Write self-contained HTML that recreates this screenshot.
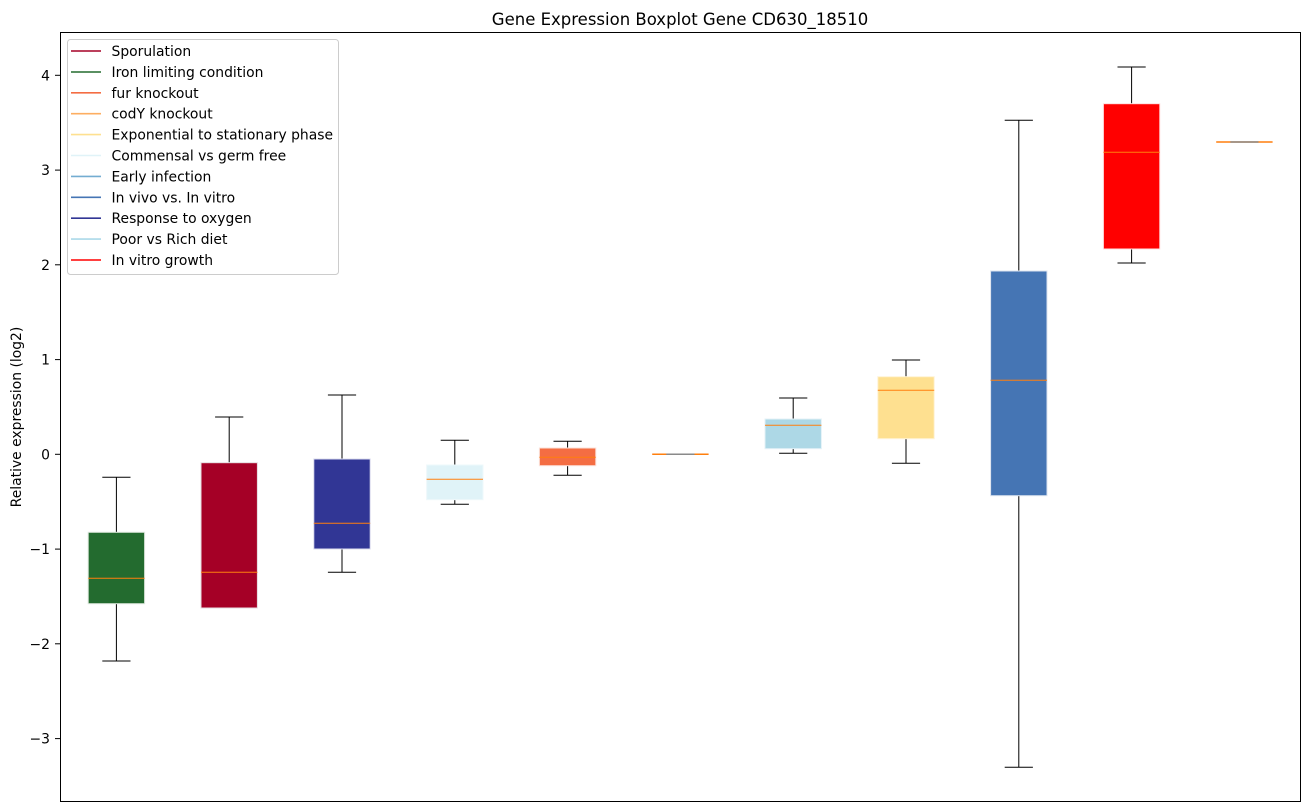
<!DOCTYPE html>
<html>
<head>
<meta charset="utf-8">
<style>
  html, body { margin: 0; padding: 0; background: #ffffff; }
  svg { display: block; }
  text { font-family: "DejaVu Sans", "Liberation Sans", sans-serif; fill: #000; }
</style>
</head>
<body>
<svg width="1309" height="812" viewBox="0 0 1309 812" xmlns="http://www.w3.org/2000/svg">
  <rect x="0" y="0" width="1309" height="812" fill="#ffffff"/>

  <!-- Title -->
  <text x="680" y="25" font-size="16.5" text-anchor="middle">Gene Expression Boxplot Gene CD630_18510</text>

  <!-- Y label -->
  <text transform="translate(21,417) rotate(-90)" font-size="13.9" text-anchor="middle">Relative expression (log2)</text>

  <!-- Y ticks -->
  <g stroke="#000" stroke-width="1">
    <line x1="55" y1="75.3" x2="60" y2="75.3"/>
    <line x1="55" y1="170.1" x2="60" y2="170.1"/>
    <line x1="55" y1="264.8" x2="60" y2="264.8"/>
    <line x1="55" y1="359.6" x2="60" y2="359.6"/>
    <line x1="55" y1="454.3" x2="60" y2="454.3"/>
    <line x1="55" y1="549.1" x2="60" y2="549.1"/>
    <line x1="55" y1="643.8" x2="60" y2="643.8"/>
    <line x1="55" y1="738.6" x2="60" y2="738.6"/>
  </g>
  <g font-size="13.9" text-anchor="end">
    <text x="50" y="80.3">4</text>
    <text x="50" y="175.1">3</text>
    <text x="50" y="269.8">2</text>
    <text x="50" y="364.6">1</text>
    <text x="50" y="459.3">0</text>
    <text x="50" y="554.1">−1</text>
    <text x="50" y="648.8">−2</text>
    <text x="50" y="743.6">−3</text>
  </g>

  <!-- Boxes -->
  <g stroke-width="1">
    <!-- Box 1 -->
    <line x1="116.4" y1="477.3" x2="116.4" y2="532.3" stroke="#000"/>
    <line x1="116.4" y1="603.7" x2="116.4" y2="661" stroke="#000"/>
    <line x1="102.3" y1="477.3" x2="130.5" y2="477.3" stroke="#000"/>
    <line x1="102.3" y1="661" x2="130.5" y2="661" stroke="#000"/>
    <rect x="88.2" y="532.3" width="56.4" height="71.4" fill="#236b2f" stroke="#dde6dd"/>
    <line x1="88.2" y1="578.3" x2="144.6" y2="578.3" stroke="#ff7f0e"/>

    <!-- Box 2 -->
    <line x1="229.2" y1="417" x2="229.2" y2="462.7" stroke="#000"/>
    <line x1="215.1" y1="417" x2="243.3" y2="417" stroke="#000"/>
    <line x1="215.1" y1="608" x2="243.3" y2="608" stroke="#000"/>
    <rect x="201" y="462.7" width="56.4" height="145.3" fill="#a50026" stroke="#e6dde0"/>
    <line x1="201" y1="572.3" x2="257.4" y2="572.3" stroke="#ff7f0e"/>

    <!-- Box 3 -->
    <line x1="342" y1="395" x2="342" y2="459" stroke="#000"/>
    <line x1="342" y1="549" x2="342" y2="572.3" stroke="#000"/>
    <line x1="327.9" y1="395" x2="356.1" y2="395" stroke="#000"/>
    <line x1="327.9" y1="572.3" x2="356.1" y2="572.3" stroke="#000"/>
    <rect x="313.8" y="459" width="56.4" height="90" fill="#313695" stroke="#dcdcee"/>
    <line x1="313.8" y1="523.3" x2="370.2" y2="523.3" stroke="#ff7f0e"/>

    <!-- Box 4 -->
    <line x1="454.8" y1="440.3" x2="454.8" y2="465" stroke="#000"/>
    <line x1="454.8" y1="499.7" x2="454.8" y2="504.3" stroke="#000"/>
    <line x1="440.7" y1="440.3" x2="468.9" y2="440.3" stroke="#000"/>
    <line x1="440.7" y1="504.3" x2="468.9" y2="504.3" stroke="#000"/>
    <rect x="426.6" y="465" width="56.4" height="34.7" fill="#e0f3f8" stroke="#eef8fb"/>
    <line x1="426.6" y1="479.3" x2="483" y2="479.3" stroke="#ff7f0e"/>

    <!-- Box 5 -->
    <line x1="567.6" y1="441.3" x2="567.6" y2="448" stroke="#000"/>
    <line x1="567.6" y1="465.7" x2="567.6" y2="475.3" stroke="#000"/>
    <line x1="553.5" y1="441.3" x2="581.7" y2="441.3" stroke="#000"/>
    <line x1="553.5" y1="475.3" x2="581.7" y2="475.3" stroke="#000"/>
    <rect x="539.4" y="448" width="56.4" height="17.7" fill="#f46d43" stroke="#fbe2da"/>
    <line x1="539.4" y1="457.3" x2="595.8" y2="457.3" stroke="#ff7f0e"/>

    <!-- Box 6 (flat at 0) -->
    <line x1="652.2" y1="454.3" x2="708.6" y2="454.3" stroke="#ff7f0e" stroke-width="1.5"/>
    <line x1="666.3" y1="454.3" x2="694.5" y2="454.3" stroke="#8a8a8a" stroke-width="1.5"/>

    <!-- Box 7 -->
    <line x1="793.2" y1="398" x2="793.2" y2="419" stroke="#000"/>
    <line x1="793.2" y1="448.7" x2="793.2" y2="453.3" stroke="#000"/>
    <line x1="779.1" y1="398" x2="807.3" y2="398" stroke="#000"/>
    <line x1="779.1" y1="453.3" x2="807.3" y2="453.3" stroke="#000"/>
    <rect x="765" y="419" width="56.4" height="29.7" fill="#add8e6" stroke="#e4f2f7"/>
    <line x1="765" y1="425.3" x2="821.4" y2="425.3" stroke="#ff7f0e"/>

    <!-- Box 8 -->
    <line x1="906" y1="360" x2="906" y2="376.7" stroke="#000"/>
    <line x1="906" y1="438.7" x2="906" y2="463.3" stroke="#000"/>
    <line x1="891.9" y1="360" x2="920.1" y2="360" stroke="#000"/>
    <line x1="891.9" y1="463.3" x2="920.1" y2="463.3" stroke="#000"/>
    <rect x="877.8" y="376.7" width="56.4" height="62" fill="#fee090" stroke="#fff3d6"/>
    <line x1="877.8" y1="390.3" x2="934.2" y2="390.3" stroke="#ff7f0e"/>

    <!-- Box 9 -->
    <line x1="1018.8" y1="120.3" x2="1018.8" y2="271" stroke="#000"/>
    <line x1="1018.8" y1="495.7" x2="1018.8" y2="767.3" stroke="#000"/>
    <line x1="1004.7" y1="120.3" x2="1032.9" y2="120.3" stroke="#000"/>
    <line x1="1004.7" y1="767.3" x2="1032.9" y2="767.3" stroke="#000"/>
    <rect x="990.6" y="271" width="56.4" height="224.7" fill="#4575b4" stroke="#dce4ef"/>
    <line x1="990.6" y1="380.3" x2="1047" y2="380.3" stroke="#ff7f0e"/>

    <!-- Box 10 -->
    <line x1="1131.6" y1="67" x2="1131.6" y2="103.7" stroke="#000"/>
    <line x1="1131.6" y1="249" x2="1131.6" y2="263" stroke="#000"/>
    <line x1="1117.5" y1="67" x2="1145.7" y2="67" stroke="#000"/>
    <line x1="1117.5" y1="263" x2="1145.7" y2="263" stroke="#000"/>
    <rect x="1103.4" y="103.7" width="56.4" height="145.3" fill="#ff0000" stroke="#ffe0e0"/>
    <line x1="1103.4" y1="152.3" x2="1159.8" y2="152.3" stroke="#ff7f0e"/>

    <!-- Box 11 (flat) -->
    <line x1="1216.2" y1="142" x2="1272.6" y2="142" stroke="#ff7f0e" stroke-width="1.5"/>
    <line x1="1230.3" y1="142" x2="1258.5" y2="142" stroke="#8a8a8a" stroke-width="1.5"/>
  </g>

  <!-- Axes frame -->
  <rect x="60.5" y="32.5" width="1240" height="769" fill="none" stroke="#000" stroke-width="1"/>

  <!-- Legend -->
  <rect x="67.5" y="39.5" width="271" height="235" rx="3" ry="3" fill="#ffffff" fill-opacity="0.8" stroke="#cccccc" stroke-width="1"/>
  <g stroke-width="1.6">
    <line x1="71" y1="51" x2="101" y2="51" stroke="#a50026"/>
    <line x1="71" y1="72" x2="101" y2="72" stroke="#236b2f"/>
    <line x1="71" y1="92.8" x2="101" y2="92.8" stroke="#f46d43"/>
    <line x1="71" y1="113.7" x2="101" y2="113.7" stroke="#fdae61"/>
    <line x1="71" y1="134.6" x2="101" y2="134.6" stroke="#fee090"/>
    <line x1="71" y1="155.5" x2="101" y2="155.5" stroke="#e0f3f8"/>
    <line x1="71" y1="176.4" x2="101" y2="176.4" stroke="#74add1"/>
    <line x1="71" y1="197.3" x2="101" y2="197.3" stroke="#4575b4"/>
    <line x1="71" y1="218.2" x2="101" y2="218.2" stroke="#313695"/>
    <line x1="71" y1="239.1" x2="101" y2="239.1" stroke="#abd9e9"/>
    <line x1="71" y1="260" x2="101" y2="260" stroke="#ff0000"/>
  </g>
  <g font-size="13.9">
    <text x="111.5" y="56">Sporulation</text>
    <text x="111.5" y="77">Iron limiting condition</text>
    <text x="111.5" y="97.8">fur knockout</text>
    <text x="111.5" y="118.7">codY knockout</text>
    <text x="111.5" y="139.6">Exponential to stationary phase</text>
    <text x="111.5" y="160.5">Commensal vs germ free</text>
    <text x="111.5" y="181.4">Early infection</text>
    <text x="111.5" y="202.3">In vivo vs. In vitro</text>
    <text x="111.5" y="223.2">Response to oxygen</text>
    <text x="111.5" y="244.1">Poor vs Rich diet</text>
    <text x="111.5" y="265">In vitro growth</text>
  </g>
</svg>
</body>
</html>
